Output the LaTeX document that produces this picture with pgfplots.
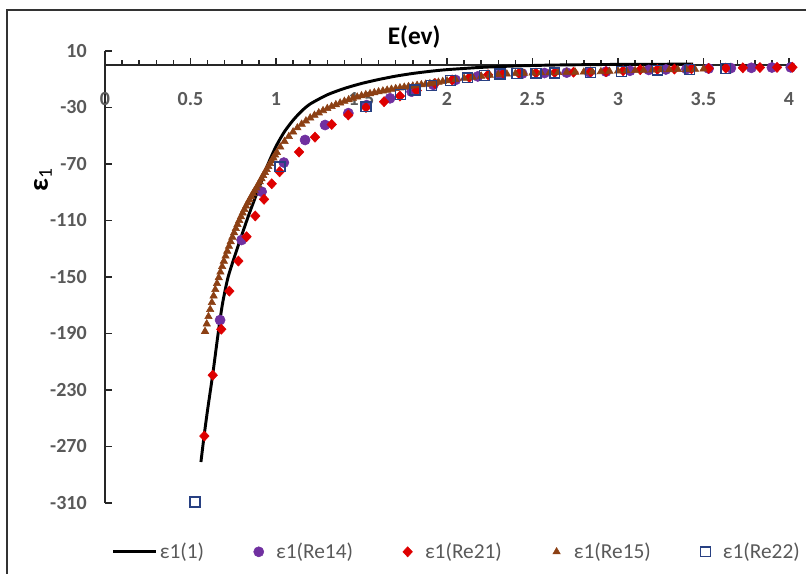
\documentclass[border=0pt]{standalone}
\usepackage{fontspec}
\setmainfont{Carlito}
\usepackage{pgfplots}
\pgfplotsset{compat=1.18}
\definecolor{tickgray}{RGB}{89,89,89}
\definecolor{cpurple}{RGB}{112,48,160}
\definecolor{cred}{RGB}{222,0,0}
\definecolor{cbrown}{RGB}{140,64,20}
\definecolor{cblue}{RGB}{40,64,130}
\pgfplotsset{markleg/.style={legend image code/.code={\draw[##1] plot coordinates {(0pt,0pt)}; \path[draw=none,fill=none] (-4pt,-0.1pt) rectangle (11pt,0.1pt);}}}
\begin{document}
\begin{tikzpicture}
\useasboundingbox (0pt,0pt) rectangle (604.5pt,430.5pt);
\draw[line width=1.1pt, black!80] (5.25pt,-10pt) -- (5.25pt,423pt) -- (620pt,423pt);
\begin{axis}[
  scale only axis,
  width=513pt, height=339pt,
  at={(78.75pt,53.25pt)}, anchor=south west,
  xmin=0, xmax=4, ymin=-310, ymax=10,
  axis x line*=middle, axis y line*=left,
  axis line style={line width=1.1pt, black!85},
  hide obscured x ticks=false,
  xtick={0,0.5,...,4}, minor x tick num=4,
  ytick={-310,-270,-230,-190,-150,-110,-70,-30,10},
  tick align=inside,
  major tick length=5pt, minor tick length=3.75pt,
  every tick/.style={line width=1.1pt, black!85},
  /pgf/number format/assume math mode=true,
  tick label style={font=\fontsize{15}{18}\selectfont\bfseries, text=tickgray},
  xticklabel style={anchor=center, yshift=-25.5pt},
  yticklabel style={anchor=east, inner sep=0pt, xshift=-13.5pt},
  clip=false,
  xlabel={E(ev)},
  xlabel style={at={(axis description cs:0.452,1.031)}, anchor=center, font=\fontsize{19}{22}\selectfont\bfseries},
  ylabel={\textbf{ε}\textsubscript{1}},
  ylabel style={at={(axis description cs:-0.0906,0.715)}, anchor=center, rotate=0, font=\fontsize{21}{25}\selectfont},
  legend style={at={(axis description cs:0.5146,-0.108)}, anchor=center, draw=none, fill=none,
    font=\fontsize{16}{19}\selectfont, text=tickgray,
    /tikz/every even column/.append style={column sep=35pt}},
  legend columns=5,
]
\addplot[black, line width=2.2pt, smooth, tension=0.4,
  legend image code/.code={\draw[black, line width=2.2pt] (0pt,0pt) -- (32pt,0pt);}]
coordinates {
(0.561,-281) (0.58,-262) (0.60,-244) (0.63,-219) (0.655,-196) (0.673,-180) (0.69,-167)
(0.72,-150) (0.77,-131) (0.838,-107) (0.906,-85) (0.95,-71) (1.0,-57.5) (1.05,-47)
(1.1,-39) (1.15,-32.5) (1.2,-27.5) (1.3,-21) (1.4,-16.5) (1.5,-13) (1.6,-10.2)
(1.7,-7.8) (1.8,-5.9) (1.9,-4.4) (2.0,-3.2) (2.2,-1.6) (2.4,-0.6) (2.6,0)
(2.8,0.3) (3.0,0.5) (3.2,0.6) (3.44,0.7)
};
\addlegendentry{ε1(1)}
\addplot[only marks, mark=*, mark size=3.8pt, color=cpurple, mark options={draw=none, fill=cpurple}, markleg]
coordinates {
(0.673,-180.5) (0.799,-123.8) (0.916,-89.6) (1.046,-69) (1.17,-53) (1.287,-42.4)
(1.423,-34) (1.53,-28.3) (1.667,-23.5) (1.793,-18.8) (1.92,-14) (2.05,-10.5) (2.18,-8)
(2.31,-6.5) (2.44,-6) (2.57,-5.6) (2.70,-5.3) (2.83,-5) (2.93,-4.6) (3.07,-4) (3.18,-3.4)
(3.28,-3.1) (3.40,-2.8) (3.53,-2.4) (3.66,-2.1) (3.78,-1.9) (3.90,-1.7) (4.01,-1.6)
};
\addlegendentry{ε1(Re14)}
\addplot[only marks, mark=diamond*, mark size=3.8pt, color=cred, mark options={draw=none, fill=cred, xscale=1.25}, markleg]
coordinates {
(0.581,-262.6) (0.630,-219.5) (0.680,-187) (0.727,-160) (0.780,-138.7) (0.828,-121.5)
(0.879,-106.8) (0.930,-95) (0.975,-84) (1.021,-75.5) (1.135,-61.5) (1.228,-51)
(1.326,-42) (1.423,-35.3) (1.526,-30) (1.632,-25.9) (1.725,-21.9) (1.823,-18)
(1.93,-13) (2.03,-10.5) (2.13,-8.7) (2.24,-6.8) (2.33,-6) (2.42,-5.8) (2.52,-5.6)
(2.63,-5.3) (2.74,-5) (2.84,-4.8) (2.93,-4.6) (3.03,-4) (3.13,-3.2) (3.23,-3)
(3.33,-2.8) (3.43,-2.6) (3.53,-2.3) (3.63,-2.1) (3.73,-1.9) (3.83,-1.7) (3.93,-1.6) (4.02,-1.5)
};
\addlegendentry{ε1(Re21)}
\addplot[only marks, mark=triangle*, mark size=3.2pt, color=cbrown, mark options={draw=none, fill=cbrown}, markleg]
coordinates {
(0.585,-188.5) (0.595,-183.2) (0.605,-178.0) (0.615,-173.0) (0.625,-168.1) (0.635,-163.4)
(0.645,-158.9) (0.655,-154.6) (0.665,-150.5) (0.675,-146.5) (0.685,-142.6) (0.695,-138.8)
(0.705,-135.2) (0.715,-131.7) (0.725,-128.3) (0.735,-125.0) (0.745,-121.8) (0.755,-118.7)
(0.765,-115.7) (0.775,-112.8) (0.785,-110.0) (0.795,-107.3) (0.805,-104.7) (0.815,-102.2)
(0.825,-99.8) (0.835,-97.5) (0.845,-95.3) (0.855,-93.1) (0.865,-91.0) (0.875,-88.9)
(0.885,-86.9) (0.895,-84.9) (0.905,-82.6) (0.915,-80.4) (0.925,-78.2) (0.935,-76.0)
(0.945,-73.9) (0.955,-71.8) (0.965,-69.7) (0.975,-67.7) (0.985,-65.7) (0.995,-63.7)
(1.005,-61.8) (1.025,-58) (1.05,-54) (1.075,-50.5) (1.10,-47.3) (1.125,-44.4)
(1.15,-41.8) (1.175,-39.5) (1.20,-37.4) (1.225,-35.5) (1.25,-33.8) (1.275,-32.2)
(1.30,-30.7) (1.325,-29.3) (1.35,-28.0) (1.375,-26.8) (1.40,-25.6) (1.425,-24.5)
(1.45,-23.5) (1.475,-22.6) (1.50,-21.7) (1.525,-20.9) (1.55,-20.2) (1.575,-19.5)
(1.60,-18.9) (1.625,-18.3) (1.65,-17.7) (1.675,-17.1) (1.70,-16.6) (1.725,-16.1)
(1.75,-15.6) (1.775,-15.2) (1.80,-14.8) (1.825,-14.3) (1.85,-13.9) (1.875,-13.5)
(1.90,-13.1) (1.925,-12.6) (1.95,-12.1) (1.975,-11.6) (2.00,-11.1) (2.05,-10.2)
(2.10,-9.3) (2.15,-8.5) (2.20,-7.8) (2.25,-7.2) (2.30,-6.7) (2.35,-6.3) (2.40,-6.0)
(2.45,-5.8) (2.50,-5.6) (2.55,-5.4) (2.60,-5.3) (2.65,-5.2) (2.70,-5.1) (2.75,-5.0)
(2.80,-4.9) (2.85,-4.8) (2.90,-4.6) (2.95,-4.4) (3.00,-4.2) (3.05,-4.0) (3.10,-3.8)
(3.15,-3.6) (3.20,-3.4) (3.25,-3.3) (3.30,-3.2) (3.35,-3.1) (3.40,-3.0) (3.45,-2.9) (3.50,-2.8)
};
\addlegendentry{ε1(Re15)}
\addplot[only marks, mark=square, mark size=3.7pt, color=cblue, mark options={draw=cblue, line width=1.1pt, fill=none}, markleg]
coordinates {
(0.526,-309.4) (1.023,-72) (1.526,-29.5) (1.729,-20.7) (1.813,-17.6) (1.91,-14.5)
(2.02,-11) (2.12,-9) (2.22,-7.3) (2.31,-6.3) (2.41,-5.8) (2.52,-5.7) (2.63,-5.6)
(2.84,-5.1) (3.02,-4.5) (3.23,-3.6) (3.42,-3.0) (3.63,-2.4)
};
\addlegendentry{ε1(Re22)}
\end{axis}
\end{tikzpicture}
\end{document}
